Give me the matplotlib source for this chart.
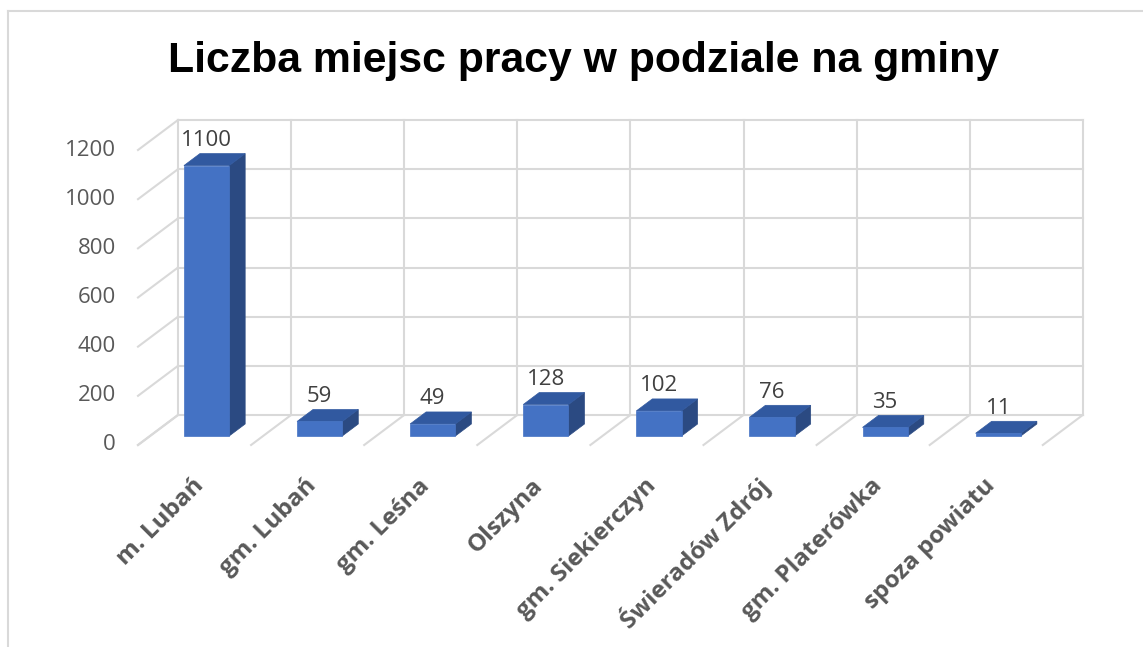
import matplotlib
matplotlib.use('Agg')
import matplotlib.pyplot as plt
from matplotlib.patches import Polygon
from matplotlib.lines import Line2D

categories = ["m. Lubań", "gm. Lubań", "gm. Leśna", "Olszyna", "gm. Siekierczyn",
              "Świeradów Zdrój", "gm. Platerówka", "spoza powiatu"]
values = [1100, 59, 49, 128, 102, 76, 35, 11]
y_ticks = [0, 200, 400, 600, 800, 1000, 1200]
title = "Liczba miejsc pracy w podziale na gminy"

W, H = 1143, 647
fig = plt.figure(figsize=(W / 100, H / 100), dpi=100)
ax = fig.add_axes([0, 0, 1, 1])

px_per_cat = 113.1
px_per_val = 295 / 1200
x0_px, y0_px = 178, 415
ax.set_xlim(-x0_px / px_per_cat, (W - x0_px) / px_per_cat)
ax.set_ylim(-(H - y0_px) / px_per_val, y0_px / px_per_val)
ax.axis('off')

DX = 40 / px_per_cat
DY = 30 / px_per_val


def proj(x, y, z):
    return (x + (z - 1) * DX, y + (z - 1) * DY)


grid_c = '#D9D9D9'
glw = 1.5
n = len(categories)
ymax = y_ticks[-1]

# back wall horizontal gridlines + side wall diagonals
for t in y_ticks:
    a, b = proj(0, t, 1), proj(n, t, 1)
    ax.plot([a[0], b[0]], [a[1], b[1]], color=grid_c, lw=glw, zorder=1)
    f = proj(0, t, 0)
    ax.plot([a[0], f[0]], [a[1], f[1]], color=grid_c, lw=glw, zorder=1)

# back wall vertical gridlines + floor diagonals
for i in range(n + 1):
    a, b = proj(i, 0, 1), proj(i, ymax, 1)
    ax.plot([a[0], b[0]], [a[1], b[1]], color=grid_c, lw=glw, zorder=1)
    f = proj(i, 0, 0)
    ax.plot([a[0], f[0]], [a[1], f[1]], color=grid_c, lw=glw, zorder=1)

# bars
hw = 0.2
zf, zb = 0.3, 0.7
front_c = '#4472C4'
side_c = '#2B4A82'
top_c = '#3159A0'
for i, v in enumerate(values):
    c = i + 0.5
    front = [proj(c - hw, 0, zf), proj(c + hw, 0, zf), proj(c + hw, v, zf), proj(c - hw, v, zf)]
    side = [proj(c + hw, 0, zf), proj(c + hw, 0, zb), proj(c + hw, v, zb), proj(c + hw, v, zf)]
    top = [proj(c - hw, v, zf), proj(c + hw, v, zf), proj(c + hw, v, zb), proj(c - hw, v, zb)]
    ax.add_patch(Polygon(side, closed=True, facecolor=side_c, edgecolor=side_c, lw=0.5, zorder=3))
    ax.add_patch(Polygon(top, closed=True, facecolor=top_c, edgecolor=top_c, lw=0.5, zorder=3))
    ax.add_patch(Polygon(front, closed=True, facecolor=front_c, edgecolor=front_c, lw=0.5, zorder=4))
    lx = proj(c, v, zf)[0]
    ly = proj(c, v, zb)[1]
    ax.annotate(str(v), xy=(lx, ly), xytext=(0, 9.5), textcoords='offset points',
                ha='center', va='center', fontsize=16, color='#404040',
                family='Open Sans', zorder=5)

# y tick labels
for t in y_ticks:
    p = proj(0, t, 0)
    ax.annotate(str(t), xy=p, xytext=(-16, 0), textcoords='offset points',
                ha='right', va='center', fontsize=16, color='#595959',
                family='Open Sans')

# category labels
for i, cat in enumerate(categories):
    p = proj(i + 0.5, 0, 0)
    ax.annotate(cat, xy=p, xytext=(4, -27), textcoords='offset points',
                ha='right', va='center', rotation=45, rotation_mode='anchor',
                fontsize=17.5, fontweight='bold', color='#595959', family='Open Sans')

# title
fig.text(583 / W, 1 - 72 / H, title, ha='center', va='baseline', fontsize=30.8,
         fontweight='bold', family='Liberation Sans', color='black')

# chart border
fig.add_artist(Line2D([8 / W, 8 / W], [0, 1 - 11 / H], transform=fig.transFigure,
                      color=grid_c, lw=1.5))
fig.add_artist(Line2D([8 / W, 1], [1 - 11 / H, 1 - 11 / H], transform=fig.transFigure,
                      color=grid_c, lw=1.5))

fig.savefig('out.png', dpi=100, facecolor='white')
